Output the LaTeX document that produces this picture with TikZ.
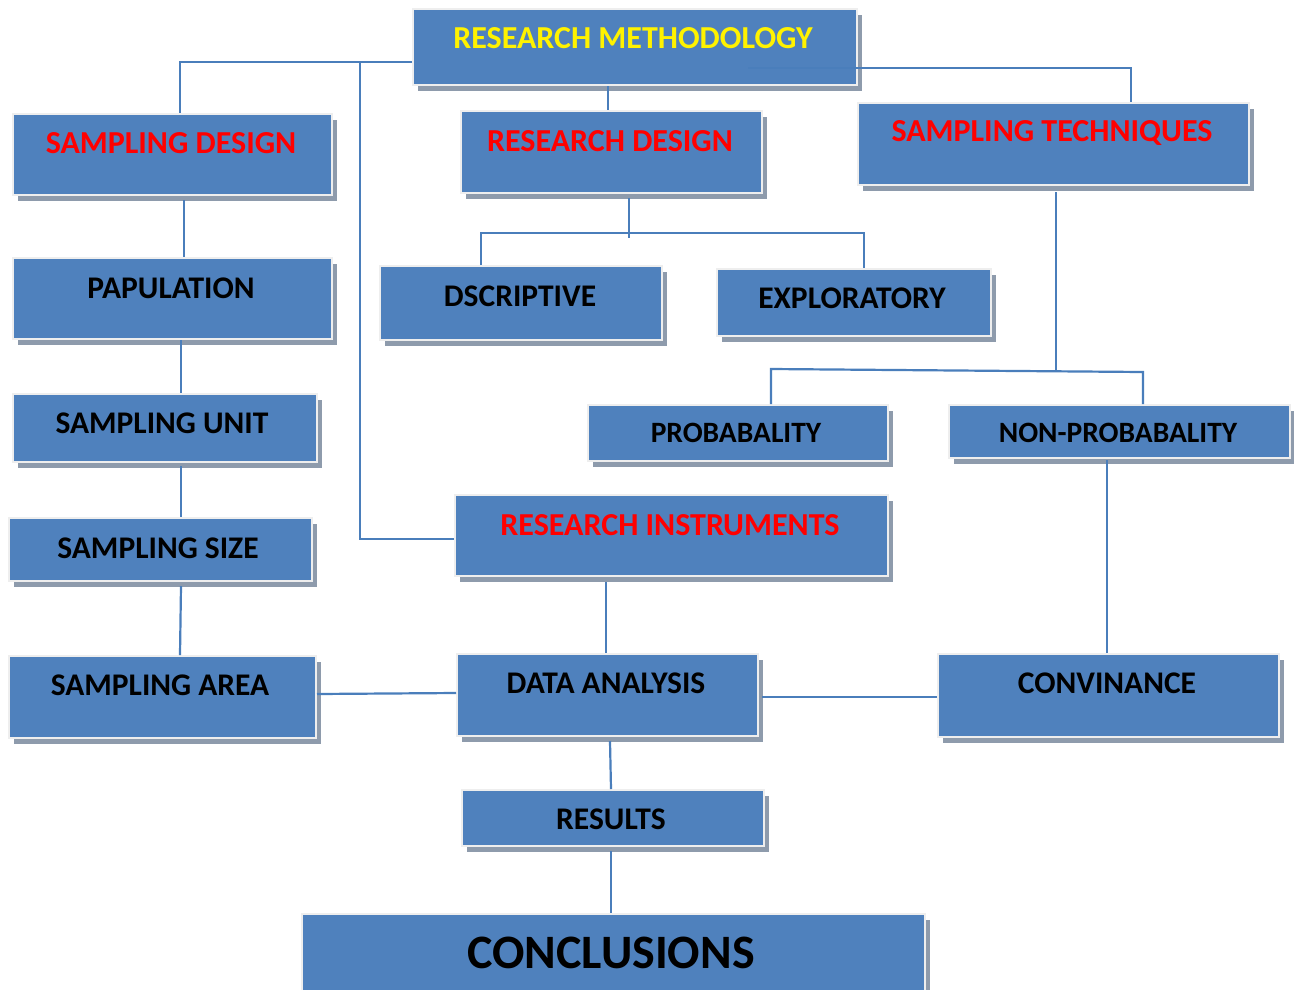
\documentclass[tikz,border=0pt]{standalone}
\usepackage{fontspec}
\setmainfont{Carlito}
\usetikzlibrary{shadows}
\definecolor{boxblue}{HTML}{4F81BD}
\definecolor{shadowgray}{HTML}{8E9BAC}
\definecolor{edgegray}{HTML}{EEEEEE}
\definecolor{lineblue}{HTML}{4A7EBB}
\tikzset{
  box/.style={rectangle, fill=boxblue, draw=edgegray, line width=2pt, anchor=north west, inner sep=0pt,
    general shadow={fill=shadowgray, shadow xshift=5pt, shadow yshift=-6pt}},
  conn/.style={draw=lineblue, line width=2.2pt},
  redtxt/.style={text=red, font=\bfseries\fontsize{32}{36}\selectfont},
  blktxt/.style={text=black, font=\bfseries\fontsize{31.5}{35}\selectfont},
  smalltxt/.style={text=black, font=\bfseries\fontsize{29.5}{33}\selectfont},
  yeltxt/.style={text=yellow, font=\bfseries\fontsize{32}{36}\selectfont},
}
\begin{document}
\begin{tikzpicture}[x=1pt, y=-1pt]
\useasboundingbox (0,0) rectangle (1294,989);
% junction coordinates
\coordinate (jL) at (180,62);
\coordinate (jI) at (360,62);
\coordinate (jI2) at (360,539);
\coordinate (jT0) at (748,68);
\coordinate (jT) at (1131,68);
\coordinate (jD1) at (629,198);
\coordinate (jD2) at (629,238);
\coordinate (dL) at (481,233);
\coordinate (dR) at (864,233);
\coordinate (sT) at (1056,192);
\coordinate (sJ) at (1056,370);
\coordinate (pL) at (771,369);
\coordinate (pR) at (1143,372);

% boxes
\node[box, minimum width=444pt, minimum height=76pt] (rm) at (412,8) {};
\node[box, minimum width=319pt, minimum height=81pt] (sd) at (12,113) {};
\node[box, minimum width=301pt, minimum height=82pt] (rd) at (460,110) {};
\node[box, minimum width=391pt, minimum height=82pt] (st) at (857,102) {};
\node[box, minimum width=319pt, minimum height=81pt] (pop) at (12,257) {};
\node[box, minimum width=282pt, minimum height=74pt] (dsc) at (379,265) {};
\node[box, minimum width=274pt, minimum height=67pt] (exp) at (716,268) {};
\node[box, minimum width=304pt, minimum height=68pt] (su) at (12,393) {};
\node[box, minimum width=300pt, minimum height=56pt] (prob) at (587,404) {};
\node[box, minimum width=341pt, minimum height=53pt] (nonp) at (948,404) {};
\node[box, minimum width=303pt, minimum height=63pt] (ss) at (8,517) {};
\node[box, minimum width=433pt, minimum height=81pt] (ri) at (454,494) {};
\node[box, minimum width=307pt, minimum height=82pt] (sa) at (8,655) {};
\node[box, minimum width=301pt, minimum height=82pt] (da) at (456,653) {};
\node[box, minimum width=341pt, minimum height=83pt] (conv) at (937,653) {};
\node[box, minimum width=302pt, minimum height=56pt] (res) at (461,789) {};
\node[box, minimum width=623pt, minimum height=95pt] (conc) at (301,913) {};

% connectors
\draw[conn] (rm.west |- jL) -- (jL) -- (jL |- sd.north);
\draw[conn] (jI) -- (jI2) -- (jI2 -| ri.west);
\draw[conn] (608,0 |- rm.south) -- (608,0 |- rd.north);
\draw[conn] (jT0) -- (jT) -- (jT |- st.north);
\draw[conn] (jD1) -- (jD2);
\draw[conn] (dL |- dsc.north) -- (dL) -- (dR) -- (dR |- exp.north);
\draw[conn] (sT) -- (sJ);
\draw[conn] (pL |- prob.north) -- (pL) -- (pR) -- (pR |- nonp.north);
\draw[conn] (184,200) -- (184,0 |- pop.north);
\draw[conn] (181,0 |- pop.south) -- (181,0 |- su.north);
\draw[conn] (181,466) -- (181,0 |- ss.north);
\draw[conn] (181,586) -- (180,0 |- sa.north);
\draw[conn] (sa.east |- 0,694) -- (da.west |- 0,693);
\draw[conn] (606,582) -- (606,0 |- da.north);
\draw[conn] (762,697) -- (conv.west |- 0,697);
\draw[conn] (1107,460) -- (1107,0 |- conv.north);
\draw[conn] (610,741) -- (611,0 |- res.north);
\draw[conn] (611,851) -- (611,0 |- conc.north);

% texts
\node[yeltxt] (rm-t) at (633,38) {RESEARCH METHODOLOGY};
\node[redtxt] (sd-t) at (171,143) {SAMPLING DESIGN};
\node[redtxt] (rd-t) at (610,141) {RESEARCH DESIGN};
\node[redtxt] (st-t) at (1052,133) {SAMPLING TECHNIQUES};
\node[blktxt] (pop-t) at (171,288) {PAPULATION};
\node[blktxt] (dsc-t) at (520,296) {DSCRIPTIVE};
\node[blktxt] (exp-t) at (852,298) {EXPLORATORY};
\node[blktxt] (su-t) at (162,423) {SAMPLING UNIT};
\node[smalltxt] (prob-t) at (736,433) {PROBABALITY};
\node[smalltxt] (nonp-t) at (1118,433) {NON-PROBABALITY};
\node[blktxt] (ss-t) at (158,548) {SAMPLING SIZE};
\node[redtxt] (ri-t) at (670,525) {RESEARCH INSTRUMENTS};
\node[blktxt] (sa-t) at (160,685) {SAMPLING AREA};
\node[blktxt] (da-t) at (606,683) {DATA ANALYSIS};
\node[blktxt] (conv-t) at (1107,683) {CONVINANCE};
\node[blktxt] (res-t) at (611,819) {RESULTS};
\node[text=black, font=\bfseries\fontsize{48}{52}\selectfont] (conc-t) at (611,953) {CONCLUSIONS};
\end{tikzpicture}
\end{document}
